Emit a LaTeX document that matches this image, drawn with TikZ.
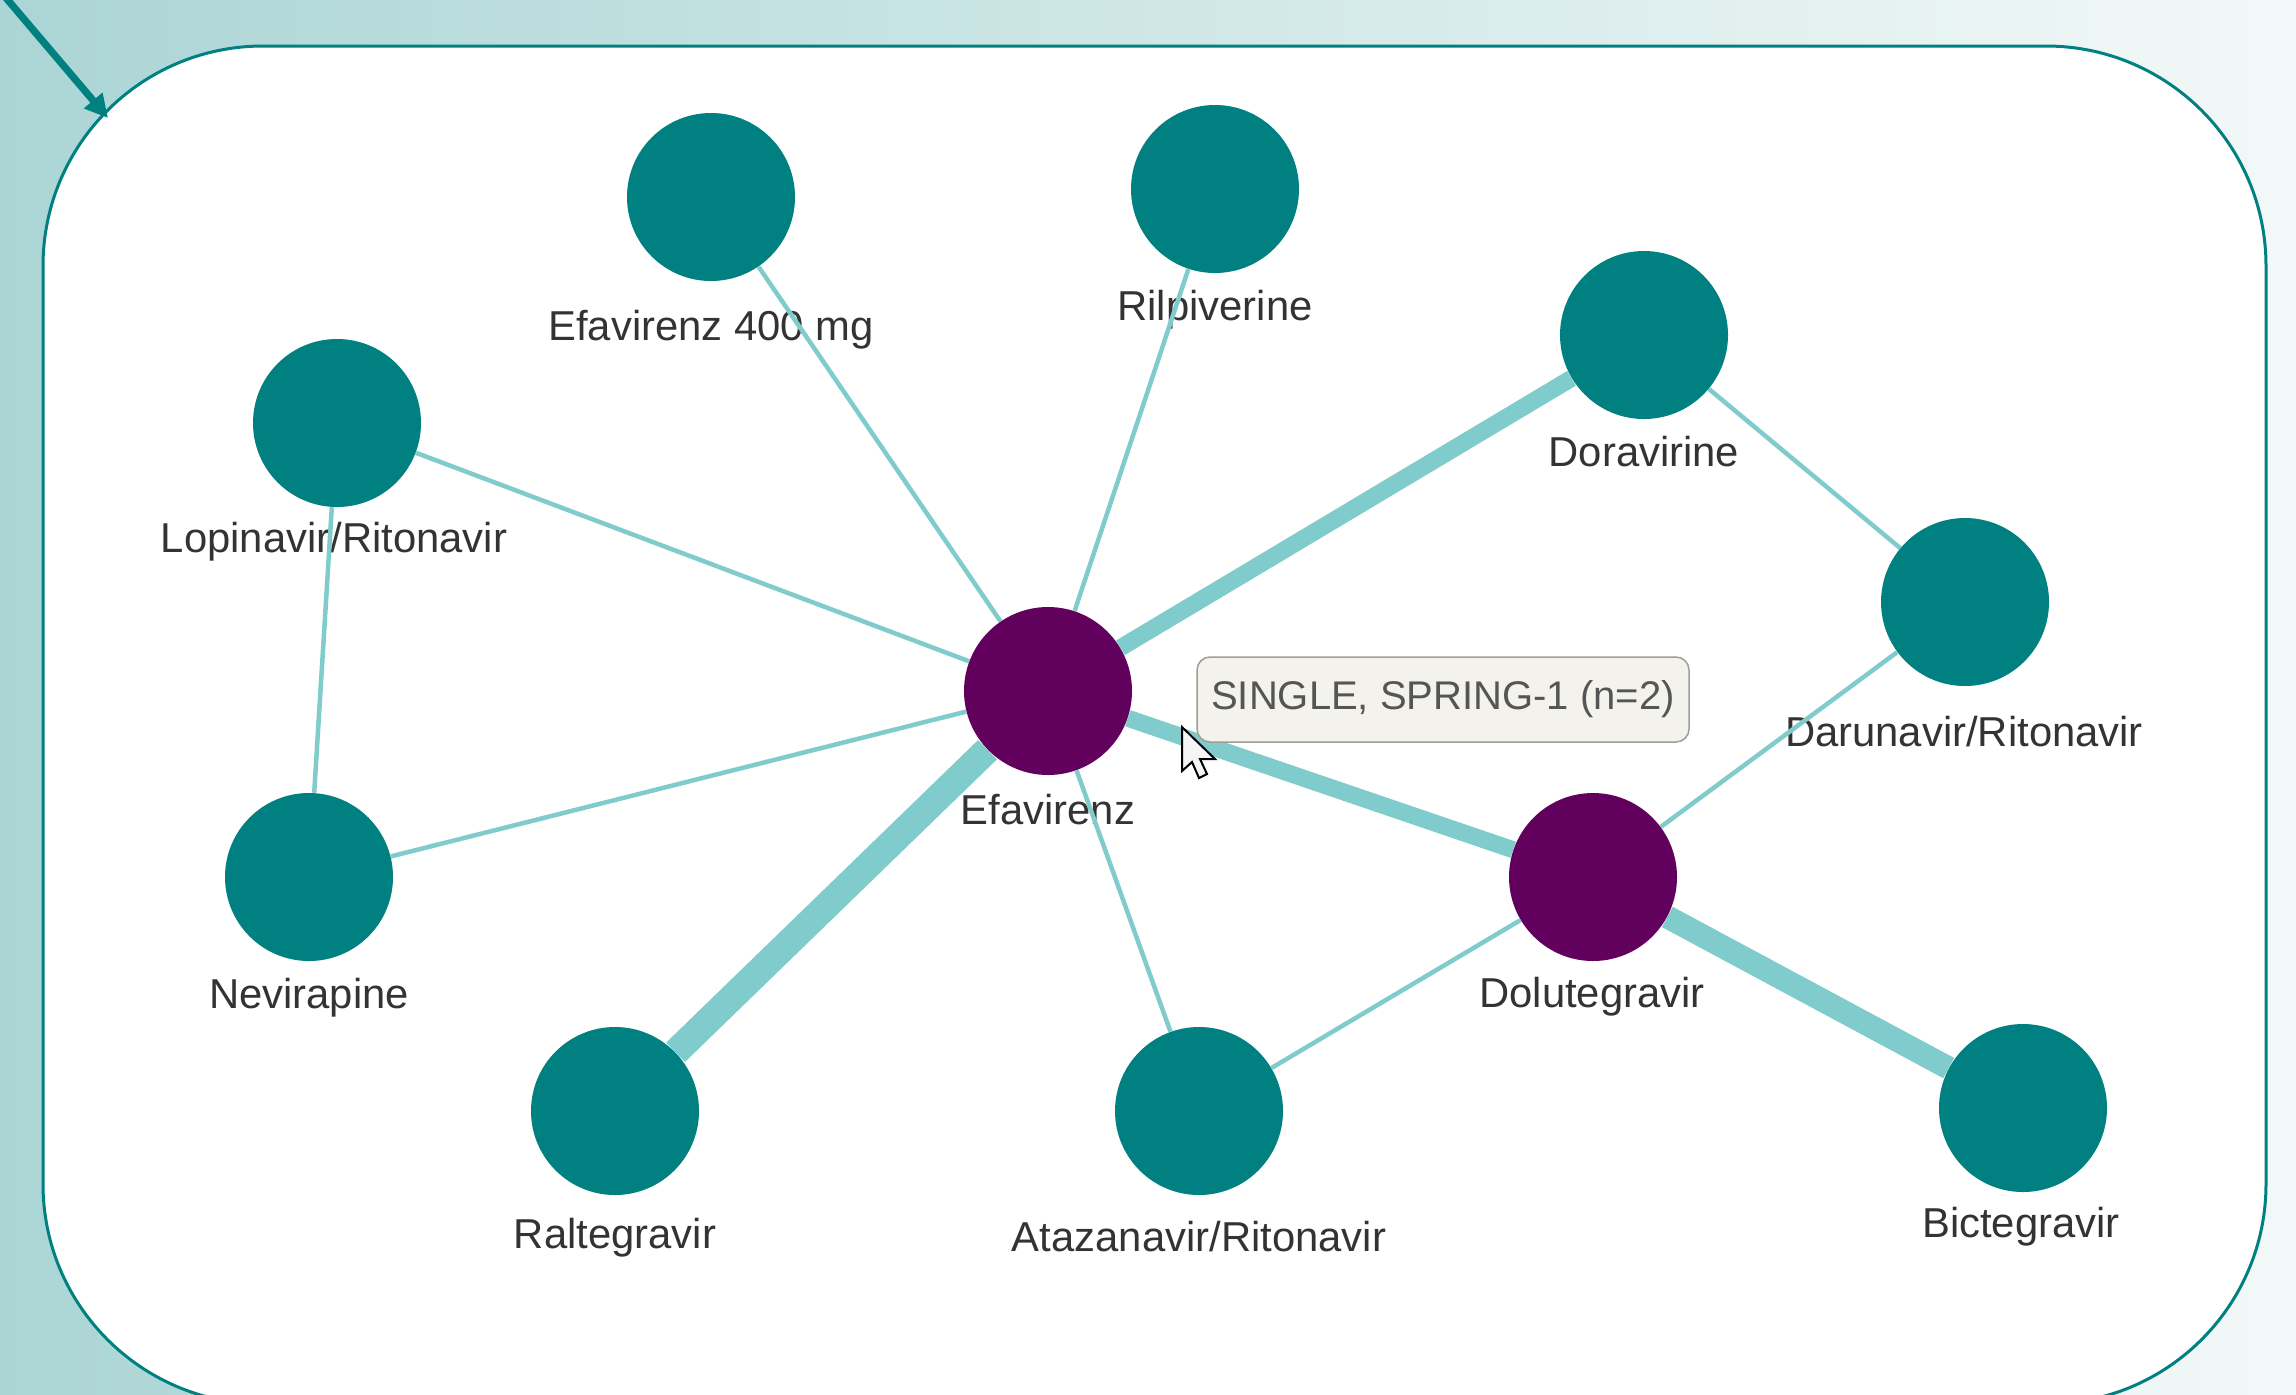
\documentclass[tikz,border=0pt]{standalone}
\usepackage{fontspec}
\setmainfont{Liberation Sans}
\usetikzlibrary{arrows.meta}

\definecolor{netteal}{HTML}{008080}
\definecolor{netpurple}{HTML}{62005E}
\definecolor{linkcol}{HTML}{80CCCC}
\definecolor{labelcol}{HTML}{333333}
\definecolor{tipfill}{HTML}{F3F2EC}
\definecolor{tipdraw}{HTML}{9E9E92}
\definecolor{tiptext}{HTML}{555555}
\definecolor{bgleft}{HTML}{ABD5D5}
\definecolor{bgright}{HTML}{F3F8F8}

\pgfdeclarelayer{backdrop}
\pgfdeclarelayer{labels}
\pgfdeclarelayer{links}
\pgfsetlayers{backdrop,labels,links,main}

\begin{document}
\begin{tikzpicture}[x=0.5pt,y=-0.5pt,
  drug/.style={circle, fill=netteal, draw=none, minimum size=84pt, inner sep=0pt},
  hub/.style={drug, fill=netpurple},
  druglabel/.style={anchor=base, inner sep=0pt, text=labelcol,
    font=\fontsize{20.9}{24}\selectfont},
  thinlink/.style={draw=linkcol, line width=2.25pt},
  widelink/.style={draw=linkcol, line width=#1},
  frame/.style={draw=netteal, fill=white, line width=1.5pt, rounded corners=110pt},
  pointer/.style={draw=netteal, line width=3.6pt,
    -{Triangle[length=11.5pt,width=11.5pt]}},
  tooltip/.style={rectangle, rounded corners=6.5pt, fill=tipfill, draw=tipdraw,
    line width=0.75pt, minimum width=246pt, minimum height=42.5pt, inner sep=0pt,
    text=tiptext, font=\fontsize{20}{24}\selectfont},
  cursorshape/.style={fill=white!96!black, draw=black, line width=1pt, line join=miter}
]
\useasboundingbox (0,0) rectangle (2296,1394);

% backdrop: gradient band and white rounded panel
\begin{pgfonlayer}{backdrop}
  \shade[left color=bgleft, right color=bgright] (0,0) rectangle (2296,1394);
  \begin{scope}
    \clip (0,0) rectangle (2296,1394);
    \draw[frame] (43,46) rectangle (2266,1404);
  \end{scope}
\end{pgfonlayer}

% drug nodes
\node[drug] (e400) at (711,197)  {};
\node[drug] (ril)  at (1215,189) {};
\node[drug] (dor)  at (1644,335) {};
\node[drug] (lop)  at (337,423)  {};
\node[drug] (dar)  at (1965,602) {};
\node[hub]  (efv)  at (1048,691) {};
\node[drug] (nev)  at (309,877)  {};
\node[hub]  (dtg)  at (1593,877) {};
\node[drug] (ral)  at (615,1111) {};
\node[drug] (atv)  at (1199,1111) {};
\node[drug] (bic)  at (2023,1108) {};

% drug names
\begin{pgfonlayer}{labels}
  \node[druglabel] (e400l) at (711,340)   {Efavirenz 400 mg};
  \node[druglabel] (rill)  at (1215,320)  {Rilpiverine};
  \node[druglabel] (dorl)  at (1644,466)  {Doravirine};
  \node[druglabel] (lopl)  at (334,552)   {Lopinavir/Ritonavir};
  \node[druglabel] (darl)  at (1964,746)  {Darunavir/Ritonavir};
  \node[druglabel] (efvl)  at (1048,824)  {Efavirenz};
  \node[druglabel] (nevl)  at (309,1008)  {Nevirapine};
  \node[druglabel] (dtgl)  at (1592,1007) {Dolutegravir};
  \node[druglabel] (rall)  at (615,1248)  {Raltegravir};
  \node[druglabel] (atvl)  at (1199,1251) {Atazanavir/Ritonavir};
  \node[druglabel] (bicl)  at (2021,1237) {Bictegravir};
\end{pgfonlayer}

% comparisons
\begin{pgfonlayer}{links}
  \draw[thinlink] (e400) -- (efv);
  \draw[thinlink] (ril) -- (efv);
  \draw[thinlink] (lop) -- (efv);
  \draw[thinlink] (lop) -- (nev);
  \draw[thinlink] (nev) -- (efv);
  \draw[thinlink] (atv) -- (efv);
  \draw[thinlink] (dor) -- (dar);
  \draw[thinlink] (dar) -- (dtg);
  \draw[thinlink] (dtg) -- (atv);
  \draw[widelink=8.5pt] (efv) -- (dor);
  \draw[widelink=13.5pt] (efv) -- (ral);
  \draw[widelink=8.5pt] (efv) -- (dtg);
  \draw[widelink=11.5pt] (dtg) -- (bic);
\end{pgfonlayer}

% arrow pointing at the panel corner
\coordinate (arrowtail) at (1,-8);
\coordinate (arrowtip) at (108,118);
\draw[pointer] (arrowtail) -- (arrowtip);

% hover tooltip and mouse pointer
\node[tooltip] (tip) at (1443,699.5) {SINGLE, SPRING-1 (n=2)};
\coordinate (mouse) at (1182,727);
\draw[cursorshape, shift={(mouse)}]
  (0,0) -- (0,44) -- (10,35) -- (17,51) -- (25,47) -- (18,32) -- (33,32) -- cycle;
\end{tikzpicture}
\end{document}
